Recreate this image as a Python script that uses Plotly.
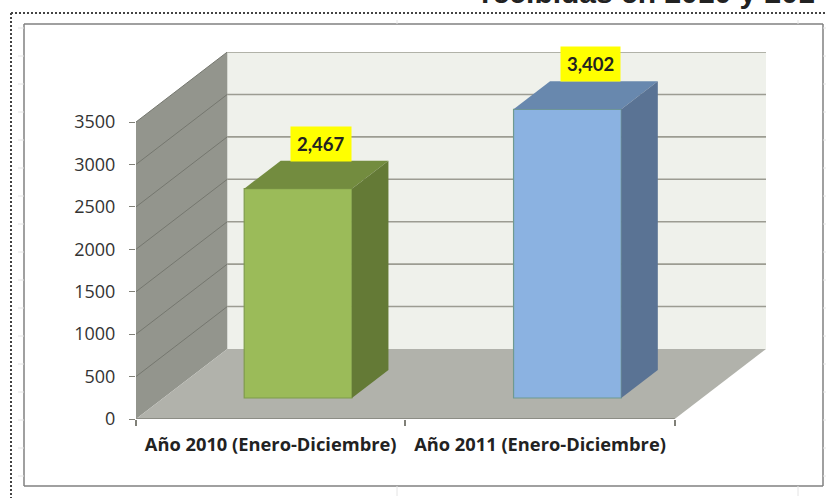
import plotly.graph_objects as go

# ---- data
categories = ["Año 2010 (Enero-Diciembre)", "Año 2011 (Enero-Diciembre)"]
values = [2467, 3402]
value_labels = ["2,467", "3,402"]
y_ticks = [0, 500, 1000, 1500, 2000, 2500, 3000, 3500]
title_tail = "recibidas en 2010 y 201"
front_colors = ["#9BBB59", "#8BB2E1"]
top_colors = ["#738C3F", "#6888AE"]
side_colors = ["#647A36", "#5A7394"]
edge_colors = ["#7F9C4C", "#6F9A90"]

# ---- oblique projection: depth 0..1 moves a point right and up, in axis units
W, H = 826, 498
L, R, T, B = 136, 60, 52, 79
Y_MAX = 3500
DEPTH_X = 91 / 268.5
DEPTH_Y = 70 / (42.43 / 500)
BAR_W = 0.40
D0, D1 = 0.3, 0.7


def proj(x, y, d):
    return x + d * DEPTH_X, y + d * DEPTH_Y


def poly(points, fill, line=None, width=0, over=False):
    xs, ys = zip(*[proj(*p) for p in points])
    return go.Scatter(x=list(xs) + [xs[0]], y=list(ys) + [ys[0]], mode="lines", fill="toself",
                      fillcolor=fill, line=dict(color=line or fill, width=width),
                      xaxis="x2" if over else "x", yaxis="y2" if over else "y",
                      hoverinfo="skip", showlegend=False, cliponaxis=False)


def seg(points, color, width):
    xs, ys = zip(*[proj(*p) for p in points])
    return go.Scatter(x=xs, y=ys, mode="lines", line=dict(color=color, width=width),
                      hoverinfo="skip", showlegend=False, cliponaxis=False)


XL, XR = -0.5, 1.5
fig = go.Figure()
# walls and floor
fig.add_trace(poly([(XL, 0, 1), (XR, 0, 1), (XR, Y_MAX, 1), (XL, Y_MAX, 1)], "#EFF1EB"))
fig.add_trace(poly([(XL, 0, 0), (XL, 0, 1), (XL, Y_MAX, 1), (XL, Y_MAX, 0)], "#93958D"))
fig.add_trace(poly([(XL, 0, 0), (XR, 0, 0), (XR, 0, 1), (XL, 0, 1)], "#B1B2AB"))
# gridlines
for v in y_ticks[1:]:
    fig.add_trace(seg([(XL, v, 1), (XR, v, 1)], "#9C9C92", 1.6))
    fig.add_trace(seg([(XL, v, 0), (XL, v, 1)], "#75776F", 1))
fig.add_trace(seg([(XL, 0, 0), (XR, 0, 0)], "#808078", 1.6))

# bars (on an overlaid pair of axes, so that they lie above the walls)
for i, v in enumerate(values):
    x0, x1 = i - BAR_W / 2, i + BAR_W / 2
    cx, base = proj(i, 0, D0)
    fig.add_trace(go.Bar(x=[cx], y=[v], base=[base], width=[BAR_W], xaxis="x2", yaxis="y2",
                         marker=dict(color=front_colors[i], line=dict(color=edge_colors[i], width=1.2)),
                         hoverinfo="skip", showlegend=False))
    fig.add_trace(poly([(x0, v, D0), (x1, v, D0), (x1, v, D1), (x0, v, D1)], top_colors[i], over=True))
    fig.add_trace(poly([(x1, 0, D0), (x1, 0, D1), (x1, v, D1), (x1, v, D0)], side_colors[i], over=True))
    lx, ly = proj(i + 0.085 - 0.135, v, D1)
    fig.add_annotation(x=lx, y=ly, xref="x2", yref="y2", text="<b>%s</b>" % value_labels[i], showarrow=False,
                       yanchor="bottom", bgcolor="#FFFF00", borderpad=6, yshift=-1,
                       font=dict(family="Lato", size=18.5, color="#222222"))


def frame_shape(x0, y0, x1, y1, color, width, dash="solid"):
    return dict(type="line", xref="paper", yref="paper", layer="below",
                x0=(x0 - L) / (W - L - R), x1=(x1 - L) / (W - L - R),
                y0=(H - B - y0) / (H - T - B), y1=(H - B - y1) / (H - T - B),
                line=dict(color=color, width=width, dash=dash))


shapes = [
    frame_shape(24, 24, 823, 24, "#808080", 1.5),
    frame_shape(24, 486, 823, 486, "#808080", 1.5),
    frame_shape(24, 24, 24, 486, "#808080", 1.5),
    frame_shape(823, 24, 823, 486, "#808080", 1.5),
    frame_shape(11, 13, 826, 13, "#444444", 2, "2px,2px"),
    frame_shape(11, 13, 11, 498, "#444444", 2, "2px,2px"),
]
for ty in range(28, 486, 28):
    shapes.append(frame_shape(18, ty, 24, ty, "#E4E4E4", 1))
    shapes.append(frame_shape(823, ty, 826, ty, "#E4E4E4", 1))
for tx in (397, 798):
    shapes.append(frame_shape(tx, 20, tx, 24, "#E4E4E4", 1))
    shapes.append(frame_shape(tx, 486, tx, 496, "#E4E4E4", 1))

fig.add_annotation(xref="paper", yref="paper", x=(817 - L) / (W - L - R), y=(H - B - 11) / (H - T - B),
                   xanchor="right", yanchor="bottom", text="<b>%s</b>" % title_tail, showarrow=False,
                   font=dict(family="Liberation Sans", size=30, color="#222222"))

fig.update_layout(
    width=W, height=H, autosize=False, margin=dict(l=L, r=R, t=T, b=B, autoexpand=False),
    paper_bgcolor="white", plot_bgcolor="white", showlegend=False, shapes=shapes,
    xaxis=dict(range=[XL, XR + DEPTH_X], tickvals=[0, 1], ticktext=categories, showgrid=False, zeroline=False,
               ticks="", ticklabelstandoff=13, tickangle=0,
               minor=dict(tickvals=[XL, 0.5, XR], ticks="outside", ticklen=6, tickcolor="#808078", tickwidth=1.5,
                          showgrid=False),
               tickfont=dict(family="Open Sans", size=18.3, color="#222222", weight="bold")),
    yaxis=dict(range=[0, Y_MAX + DEPTH_Y], tickvals=y_ticks, showgrid=False, zeroline=False, ticks="outside",
               ticklen=6, tickcolor="#808078", tickwidth=1.2, showline=False, tickformat="d", ticklabelstandoff=10,
               tickfont=dict(family="Open Sans", size=18, color="#333333")),
    xaxis2=dict(range=[XL, XR + DEPTH_X], overlaying="x", visible=False),
    yaxis2=dict(range=[0, Y_MAX + DEPTH_Y], overlaying="y", visible=False),
)
fig.write_html("out.html", config=dict(displayModeBar=False),
               post_script="document.body.style.margin='0';document.documentElement.style.overflow='hidden';")
